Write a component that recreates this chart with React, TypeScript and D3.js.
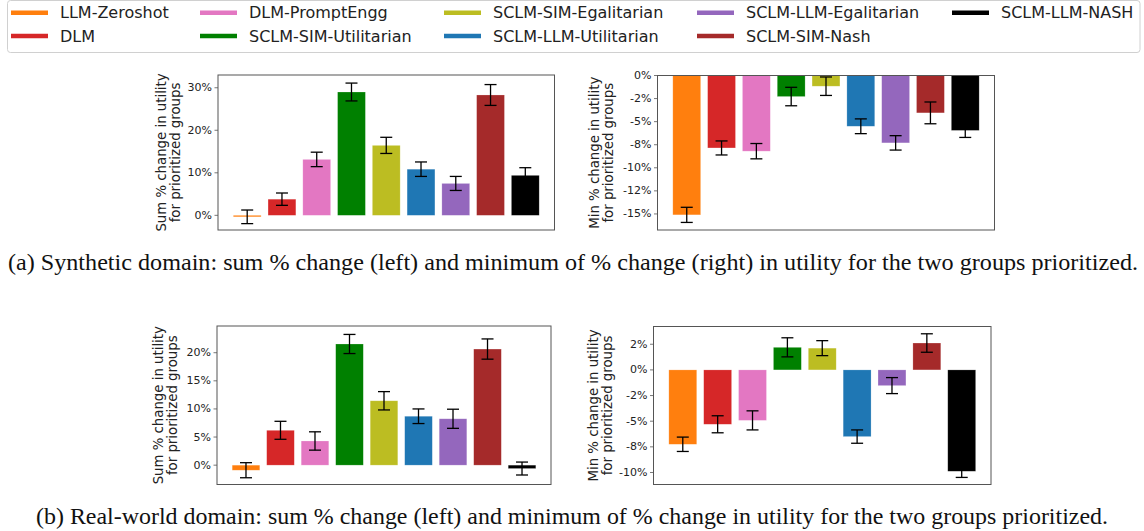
import React from "react";
import * as d3 from "d3";

const methods = [
  "LLM-Zeroshot",
  "DLM",
  "DLM-PromptEngg",
  "SCLM-SIM-Utilitarian",
  "SCLM-SIM-Egalitarian",
  "SCLM-LLM-Utilitarian",
  "SCLM-LLM-Egalitarian",
  "SCLM-SIM-Nash",
  "SCLM-LLM-NASH",
];
const colors = ["#ff7f0e", "#d62728", "#e377c2", "#008000", "#bcbd22", "#1f77b4", "#9467bd", "#a52a2a", "#000000"];

// (a) Synthetic domain
const synthSumValues = [-0.35, 3.8, 13.15, 29.0, 16.45, 10.85, 7.5, 28.3, 9.4];
const synthSumErrors = [1.6, 1.45, 1.7, 2.1, 1.9, 1.7, 1.65, 2.45, 1.8];
const synthMinValues = [-15.1, -7.85, -8.2, -2.28, -1.16, -5.5, -7.3, -4.05, -5.95];
const synthMinErrors = [0.82, 0.76, 0.83, 1.0, 1.0, 0.8, 0.78, 1.18, 0.76];
// (b) Real-world domain
const realSumValues = [-0.9, 6.2, 4.3, 21.55, 11.45, 8.7, 8.25, 20.65, -0.6];
const realSumErrors = [1.34, 1.6, 1.63, 1.7, 1.63, 1.3, 1.7, 1.8, 1.15];
const realMinValues = [-7.25, -5.3, -4.92, 2.2, 2.12, -6.5, -1.53, 2.62, -9.88];
const realMinErrors = [0.7, 0.83, 0.93, 0.93, 0.73, 0.65, 0.78, 0.9, 0.6];

const synthSumTicks = [0, 10, 20, 30];
const synthSumTickLabels = ["0%", "10%", "20%", "30%"];
const synthMinTicks = [0, -2.5, -5, -7.5, -10, -12.5, -15];
const synthMinTickLabels = ["0%", "-2%", "-5%", "-8%", "-10%", "-12%", "-15%"];
const realSumTicks = [0, 5, 10, 15, 20];
const realSumTickLabels = ["0%", "5%", "10%", "15%", "20%"];
const realMinTicks = [2.5, 0, -2.5, -5, -7.5, -10];
const realMinTickLabels = ["2%", "0%", "-2%", "-5%", "-8%", "-10%"];

const sumLabel = ["Sum % change in utility", "for prioritized groups"];
const minLabel = ["Min % change in utility", "for prioritized groups"];

const captionA =
  "(a) Synthetic domain: sum % change (left) and minimum of % change (right) in utility for the two groups prioritized.";
const captionB =
  "(b) Real-world domain: sum % change (left) and minimum of % change in utility for the two groups prioritized.";

const FONT = "'DejaVu Sans', sans-serif";
const SERIF = "'Liberation Serif', 'Times New Roman', serif";

type PanelProps = {
  x0: number;
  x1: number;
  y0: number;
  y1: number;
  domain: [number, number];
  values: number[];
  errors: number[];
  ticks: number[];
  tickLabels: string[];
  label: string[];
  labelX: number;
};

function Panel(p: PanelProps) {
  const x = d3.scaleLinear().domain([-0.84, methods.length - 1 + 0.84]).range([p.x0, p.x1]);
  const y = d3.scaleLinear().domain(p.domain).range([p.y1, p.y0]);
  const bw = x(0.4) - x(0);
  const cap = 6;
  const cy = (p.y0 + p.y1) / 2;
  return (
    <g>
      {p.values.map((v, i) => {
        const top = y(Math.max(v, 0));
        const bot = y(Math.min(v, 0));
        return (
          <rect
            key={"b" + i}
            x={x(i) - bw}
            y={top}
            width={bw * 2}
            height={Math.max(bot - top, 1.5)}
            fill={colors[i]}
            stroke="#ffffff"
            strokeOpacity={0.35}
            strokeWidth={0.6}
          />
        );
      })}
      {p.values.map((v, i) => {
        const e = p.errors[i];
        const cx = x(i);
        return (
          <g key={"e" + i} stroke="#000" strokeWidth={1.3}>
            <line x1={cx} x2={cx} y1={y(v + e)} y2={y(v - e)} />
            <line x1={cx - cap} x2={cx + cap} y1={y(v + e)} y2={y(v + e)} />
            <line x1={cx - cap} x2={cx + cap} y1={y(v - e)} y2={y(v - e)} />
          </g>
        );
      })}
      <rect x={p.x0} y={p.y0} width={p.x1 - p.x0} height={p.y1 - p.y0} fill="none" stroke="#555" strokeWidth={1} />
      {p.ticks.map((t, i) => (
        <g key={"t" + i}>
          <line x1={p.x0 - 3.5} x2={p.x0} y1={y(t)} y2={y(t)} stroke="#555" strokeWidth={0.8} />
          <text
            x={p.x0 - 6}
            y={y(t)}
            textAnchor="end"
            dominantBaseline="central"
            fontSize={11}
            fontFamily={FONT}
            fill="#222"
          >
            {p.tickLabels[i]}
          </text>
        </g>
      ))}
      <text
        transform={`translate(${p.labelX},${cy}) rotate(-90)`}
        textAnchor="middle"
        fontSize={13.3}
        fontFamily={FONT}
        fill="#222"
        dominantBaseline="central"
      >
        <tspan x={0} y={0}>{p.label[0]}</tspan>
        <tspan x={0} y={14}>{p.label[1]}</tspan>
      </text>
    </g>
  );
}

export default function App() {
  const legendCols = [11, 200, 444, 697, 952];
  const legendRows = [12.7, 36];
  return (
    <svg
      width={1144}
      height={531}
      style={{ position: "absolute", left: 0, top: 0, background: "#fff" }}
    >
      <rect x={0} y={0} width={1144} height={531} fill="#fff" />
      {/* Legend */}
      <rect x={7.5} y={0.5} width={1132.5} height={52} rx={3} fill="#fff" stroke="#d0d0d0" strokeWidth={1} />
      {methods.map((m, i) => {
        const cx = legendCols[Math.floor(i / 2)];
        const ry = legendRows[i % 2];
        return (
          <g key={m}>
            <line x1={cx} x2={cx + 37} y1={ry} y2={ry} stroke={colors[i]} strokeWidth={4.5} />
            <text x={cx + 49} y={ry} dominantBaseline="central" fontSize={16} fontFamily={FONT} fill="#222">
              {m}
            </text>
          </g>
        );
      })}

      <Panel
        x0={218}
        x1={554.5}
        y0={75}
        y1={230}
        domain={[-3.45, 33]}
        values={synthSumValues}
        errors={synthSumErrors}
        ticks={synthSumTicks}
        tickLabels={synthSumTickLabels}
        label={sumLabel}
        labelX={160.5}
      />
      <Panel
        x0={657.5}
        x1={994.5}
        y0={75.5}
        y1={230}
        domain={[-16.74, 0]}
        values={synthMinValues}
        errors={synthMinErrors}
        ticks={synthMinTicks}
        tickLabels={synthMinTickLabels}
        label={minLabel}
        labelX={594}
      />
      <text
        x={8}
        y={270}
        fontSize={24}
        fontFamily={SERIF}
        fill="#111"
        textLength={1130}
        lengthAdjust="spacingAndGlyphs"
      >
        {captionA}
      </text>

      <Panel
        x0={217}
        x1={551}
        y0={326}
        y1={484.5}
        domain={[-3.44, 24.75]}
        values={realSumValues}
        errors={realSumErrors}
        ticks={realSumTicks}
        tickLabels={realSumTickLabels}
        label={sumLabel}
        labelX={157.5}
      />
      <Panel
        x0={653.5}
        x1={991}
        y0={326.5}
        y1={484.5}
        domain={[-11.17, 4.23]}
        values={realMinValues}
        errors={realMinErrors}
        ticks={realMinTicks}
        tickLabels={realMinTickLabels}
        label={minLabel}
        labelX={592.5}
      />
      <text
        x={36}
        y={524}
        fontSize={24}
        fontFamily={SERIF}
        fill="#111"
        textLength={1072}
        lengthAdjust="spacingAndGlyphs"
      >
        {captionB}
      </text>
    </svg>
  );
}
